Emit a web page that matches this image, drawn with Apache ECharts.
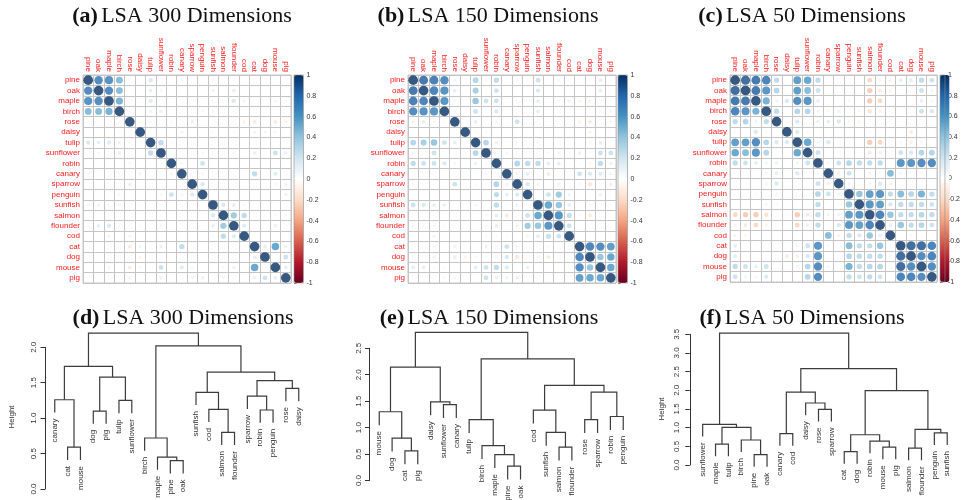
<!DOCTYPE html>
<html>
<head>
<meta charset="utf-8">
<script src="https://cdn.jsdelivr.net/npm/echarts@6/dist/echarts.min.js"></script>
<style>
html,body{margin:0;padding:0;background:#fff;}
#chart{width:963px;height:500px;}
</style>
</head>
<body>
<div id="chart"></div>
<script>
// Word list shared by all panels
const terms = ['pine','oak','maple','birch','rose','daisy','tulip','sunflower','robin','canary',
  'sparrow','penguin','sunfish','salmon','flounder','cod','cat','dog','mouse','pig'];

// Correlations, upper triangle: row i holds r(i, j) for j = i+1 .. 19
const corr300 = [
  [0.75,0.72,0.50,0.02,-0.03,0.20,0.00,0.00,-0.08,0.00,0.00,0.08,0.00,0.05,0.02,0.00,0.00,0.02,0.02],
  [0.75,0.50,0.00,0.02,0.15,-0.08,0.00,0.00,0.04,0.00,0.10,0.00,0.15,0.02,0.00,0.00,0.02,0.00],
  [0.55,0.00,0.02,0.18,0.00,0.02,0.00,0.03,0.00,0.05,0.05,0.20,0.10,0.00,0.02,-0.08,-0.05],
  [-0.04,-0.05,0.10,-0.12,0.02,-0.05,0.00,-0.08,0.08,0.00,0.06,0.00,0.00,0.02,0.00,0.00],
  [0.00,0.08,0.00,0.08,0.00,0.12,0.00,0.00,0.00,-0.04,-0.10,-0.15,0.00,-0.15,-0.10],
  [0.00,0.00,0.00,0.10,0.00,0.00,-0.05,0.00,0.05,0.00,0.10,-0.10,0.08,0.00],
  [0.30,0.05,0.00,0.00,0.00,0.00,0.00,0.00,0.00,0.00,0.00,0.03,0.02],
  [0.03,0.05,0.03,0.06,0.05,-0.05,-0.08,0.02,0.12,0.00,0.25,0.12],
  [0.08,0.00,0.25,0.00,0.00,0.00,0.00,0.00,0.00,0.00,0.00],
  [0.00,0.08,-0.04,0.00,-0.05,0.00,0.30,0.00,0.18,0.00],
  [0.20,0.00,0.00,0.00,0.00,0.00,0.00,0.08,-0.10],
  [0.00,0.00,0.03,0.00,0.00,0.00,-0.03,-0.12],
  [0.20,0.15,0.06,0.00,0.00,0.00,0.00],
  [0.42,0.30,0.00,-0.05,-0.08,-0.08],
  [0.18,-0.04,0.00,-0.12,0.00],
  [0.00,0.00,0.00,0.00],
  [0.15,0.60,0.12],
  [0.03,0.25],
  [0.15]
];
const corr150 = [
  [0.85,0.82,0.75,0.10,0.00,0.35,0.08,0.30,0.00,0.08,0.05,0.25,0.04,0.08,0.05,0.00,-0.05,0.15,0.04],
  [0.80,0.72,0.15,0.00,0.40,0.05,0.25,0.03,0.05,0.00,0.20,0.00,0.05,0.03,0.00,0.00,0.15,0.00],
  [0.70,0.08,0.02,0.45,0.25,0.25,-0.03,0.05,0.03,0.15,0.03,0.08,0.10,-0.08,-0.10,0.05,0.03],
  [0.08,0.00,0.25,0.00,0.20,-0.02,0.00,-0.02,0.15,0.00,0.05,0.02,0.00,0.00,0.06,0.08],
  [0.00,0.15,0.00,0.08,0.05,0.25,0.00,0.00,0.03,0.03,0.02,-0.10,-0.15,0.02,-0.08],
  [0.05,0.05,0.03,0.02,0.00,0.03,0.03,-0.04,0.00,0.00,0.00,-0.10,0.00,0.00],
  [0.35,0.12,0.04,0.06,0.03,0.08,0.00,0.00,0.00,0.00,-0.08,0.15,0.02],
  [0.05,0.08,0.04,0.02,0.02,-0.08,-0.08,-0.05,0.12,0.05,0.25,0.25],
  [0.05,0.35,0.30,0.30,0.15,0.15,0.05,0.05,-0.08,0.30,0.12],
  [-0.10,0.15,-0.05,-0.15,-0.05,0.05,0.25,0.20,0.18,0.10],
  [0.20,0.10,0.03,0.10,0.02,-0.08,-0.18,0.04,-0.12],
  [0.03,0.25,0.42,0.10,0.00,0.03,0.12,0.00],
  [0.60,0.45,0.15,0.00,-0.08,0.02,0.00],
  [0.70,0.28,-0.08,-0.15,0.02,0.00],
  [0.25,0.00,0.00,0.00,0.00],
  [0.00,0.00,-0.03,0.00],
  [0.78,0.75,0.65],
  [0.45,0.60],
  [0.60]
];
const corr50 = [
  [0.90,0.85,0.80,0.30,0.05,0.65,0.60,0.30,0.02,0.00,0.02,0.00,-0.25,-0.10,-0.10,0.15,0.15,0.30,0.25],
  [0.85,0.70,0.35,0.00,0.65,0.50,0.25,0.00,0.04,-0.03,0.00,-0.30,-0.15,-0.08,0.04,0.04,0.25,0.10],
  [0.55,0.10,0.20,0.75,0.70,0.15,0.00,-0.03,-0.06,0.04,-0.30,-0.25,0.00,0.04,0.02,0.15,0.08],
  [0.30,0.05,0.35,0.35,0.10,-0.08,-0.10,0.02,-0.08,-0.20,-0.10,0.03,0.03,0.00,0.25,0.20],
  [0.00,0.20,0.00,0.12,0.15,0.20,-0.08,-0.08,0.02,0.00,0.03,0.03,-0.02,0.02,0.02],
  [0.20,0.05,0.03,0.00,0.02,0.00,0.00,-0.05,-0.03,0.00,0.00,-0.15,0.03,0.00],
  [0.60,0.10,0.20,0.00,-0.05,0.00,-0.30,-0.25,0.00,-0.06,-0.12,0.08,0.00],
  [0.25,0.00,-0.03,0.00,0.04,-0.15,-0.12,0.03,0.25,0.20,0.35,0.35],
  [0.08,0.25,0.35,0.30,0.30,0.30,0.04,0.70,0.70,0.75,0.75],
  [-0.12,0.25,0.02,0.10,0.04,0.50,0.08,0.02,0.08,0.00],
  [0.10,0.06,0.10,0.20,-0.10,0.00,0.00,0.00,0.00],
  [0.45,0.65,0.70,0.30,0.50,0.35,0.55,0.30],
  [0.70,0.65,0.20,0.30,0.30,0.30,0.25],
  [0.80,0.45,0.30,0.30,0.35,0.30],
  [0.15,0.45,0.30,0.35,0.25],
  [0.02,-0.08,0.00,0.00],
  [0.90,0.90,0.80],
  [0.75,0.80],
  [0.75]
];

// Hierarchical clustering: leaf order, then merges [left, right, height];
// a string is a leaf, a number refers to an earlier merge
const leaves300 = ['canary','cat','mouse','dog','pig','tulip','sunflower','birch','maple','pine',
  'oak','sunfish','cod','salmon','flounder','sparrow','robin','penguin','rose','daisy'];
const merges300 = [
  ['pine','oak',0.40], ['maple',0,0.45], ['cat','mouse',0.59], ['birch',1,0.72],
  ['salmon','flounder',0.80], ['dog','pig',1.10], ['robin','penguin',1.115], ['cod',4,1.125],
  ['tulip','sunflower',1.25], ['canary',2,1.26], ['sparrow',6,1.31], ['sunfish',7,1.365],
  ['rose','daisy',1.42], [10,12,1.53], [5,8,1.58], [11,13,1.65], [9,14,1.73], [3,15,2.02], [16,17,2.20]
];
const leaves150 = ['mouse','dog','cat','pig','daisy','sunflower','canary','tulip','birch','maple',
  'pine','oak','cod','sunfish','salmon','flounder','rose','sparrow','robin','penguin'];
const merges150 = [
  ['pine','oak',0.27], ['maple',0,0.49], ['cat','pig',0.56], ['salmon','flounder',0.63],
  ['birch',1,0.66], ['dog',2,0.80], ['sunfish',3,0.91], ['tulip',4,1.15], ['rose','sparrow',1.15],
  ['robin','penguin',1.21], ['mouse',5,1.30], ['cod',6,1.33], ['sunflower','canary',1.435],
  ['daisy',12,1.485], [8,9,1.67], [11,14,1.80], [10,13,2.145], [7,15,2.30], [16,17,2.80]
];
const leaves50 = ['sunflower','maple','tulip','birch','pine','oak','canary','cod','daisy','rose',
  'sparrow','cat','dog','robin','mouse','pig','salmon','flounder','penguin','sunfish'];
const merges50 = [
  ['pine','oak',0.28], ['cat','dog',0.36], ['salmon','flounder',0.45], ['mouse','pig',0.48],
  ['maple','tulip',0.56], ['robin',3,0.64], ['birch',0,0.67], [1,5,0.81], ['canary','cod',0.84],
  ['penguin','sunfish',0.86], [2,9,0.955], [4,6,1.01], ['sunflower',11,1.09], ['rose','sparrow',1.49],
  ['daisy',13,1.66], [8,14,1.95], [7,10,1.99], [15,16,2.58], [12,17,3.53]
];

const panelTags = ['(a)','(b)','(c)','(d)','(e)','(f)'];
const panelNames = ['LSA 300 Dimensions','LSA 150 Dimensions','LSA 50 Dimensions',
  'LSA 300 Dimensions','LSA 150 Dimensions','LSA 50 Dimensions'];

const rdbu = ['#67001F','#B2182B','#D6604D','#F4A582','#FDDBC7','#FFFFFF',
  '#D1E5F0','#92C5DE','#4393C3','#2166AC','#053061'];

// ---- build the full symmetric matrix as [col, row, r] triples
function matrixData(upper) {
  const out = [];
  const n = terms.length;
  for (let i = 0; i < n; i++) {
    for (let j = 0; j < n; j++) {
      let v;
      if (i === j) v = 1;
      else if (i < j) v = upper[i][j - i - 1];
      else v = upper[j][i - j - 1];
      out.push([j, i, v]);
    }
  }
  return out;
}

// ---- dendrogram geometry following plot.hclust (hang = 0.1 of height range)
function treeLayout(order, merges) {
  const hs = merges.map(m => m[2]);
  const hang = 0.1 * (Math.max(...hs) - Math.min(...hs));
  const nodeX = [];
  const links = [];
  const tips = [];
  const xOf = r => typeof r === 'string' ? order.indexOf(r) + 1 : nodeX[r];
  const hOf = (r, h) => typeof r === 'string' ? h - hang : merges[r][2];
  merges.forEach((m, i) => {
    const x1 = xOf(m[0]), x2 = xOf(m[1]);
    nodeX[i] = (x1 + x2) / 2;
    links.push([x1, x2, m[2], hOf(m[0], m[2]), hOf(m[1], m[2])]);
    [m[0], m[1]].forEach(r => {
      if (typeof r === 'string') {
        const k = order.indexOf(r);
        tips.push([k + 1, m[2] - hang, k]);
      }
    });
  });
  return { links, tips };
}

const sans = 'Liberation Sans, Arial, sans-serif';
const serif = 'Liberation Serif, Times New Roman, serif';

const matrixPanels = [
  { data: corr300, left: 83, top: 75, size: 208, bar: 294 },
  { data: corr150, left: 408, top: 75, size: 208, bar: 618 },
  { data: corr50,  left: 730, top: 75, size: 207, bar: 940 }
];
const treePanels = [
  { order: leaves300, merges: merges300, left: 45,  top: 347.3, height: 141.7, xmin: 0.24, xmax: 20.76, width: 263.5, ymax: 2.0 },
  { order: leaves150, merges: merges150, left: 369.5, top: 348.3, height: 132.2, xmin: 0.24, xmax: 20.76, width: 263.5, ymax: 2.5 },
  { order: leaves50,  merges: merges50,  left: 688, top: 334.3, height: 130.7, xmin: -0.14, xmax: 20.76, width: 269, ymax: 3.5 }
];

const grid = [], xAxis = [], yAxis = [], series = [], visualMap = [];

// correlation matrices
matrixPanels.forEach((p, k) => {
  const cell = p.size / terms.length;
  grid.push({ left: p.left, top: p.top, width: p.size, height: p.size, show: true,
    borderColor: '#c4c4c4', borderWidth: 1, backgroundColor: '#fff' });
  xAxis.push({ gridIndex: k, type: 'category', data: terms, position: 'top',
    axisLine: { show: false }, axisTick: { show: false },
    splitLine: { show: true, interval: 0, lineStyle: { color: '#c4c4c4', width: 1 } },
    axisLabel: { interval: 0, rotate: 90, color: '#ff1a1a', fontSize: 8, fontFamily: sans, margin: 3 } });
  yAxis.push({ gridIndex: k, type: 'category', data: terms, inverse: true,
    axisLine: { show: false }, axisTick: { show: false },
    splitLine: { show: true, interval: 0, lineStyle: { color: '#c4c4c4', width: 1 } },
    axisLabel: { interval: 0, color: '#ff1a1a', fontSize: 8, fontFamily: sans, margin: 3 } });
  series.push({ type: 'scatter', xAxisIndex: k, yAxisIndex: k, data: matrixData(p.data),
    symbol: 'circle', silent: true,
    symbolSize: d => 0.93 * Math.sqrt(Math.abs(d[2])) * cell });
  visualMap.push({ type: 'continuous', seriesIndex: k, dimension: 2, min: -1, max: 1,
    inRange: { color: rdbu }, calculable: false, hoverLink: false, orient: 'vertical',
    left: p.bar, top: p.top, itemWidth: 9.5, itemHeight: p.size, padding: 0, text: null,
    showLabel: false });
});

// colour-bar scales
matrixPanels.forEach((p, k) => {
  const gi = grid.length;
  grid.push({ left: p.bar, top: p.top, width: 9.5, height: p.size, show: true, z: 6,
    borderColor: '#8a8a8a', borderWidth: 0.6, backgroundColor: 'transparent' });
  xAxis.push({ gridIndex: gi, type: 'value', show: false });
  yAxis.push({ gridIndex: gi, type: 'value', min: -1, max: 1, interval: 0.2, position: 'right',
    axisLine: { show: false }, splitLine: { show: false },
    axisTick: { show: true, length: 2.5, lineStyle: { color: '#666', width: 0.8 } },
    axisLabel: { fontSize: 7, color: '#333', fontFamily: sans, margin: 3 } });
});

// dendrograms
treePanels.forEach((p, k) => {
  const gi = grid.length;
  const lay = treeLayout(p.order, p.merges);
  grid.push({ left: p.left, top: p.top, width: p.width, height: p.height });
  xAxis.push({ gridIndex: gi, type: 'value', min: p.xmin, max: p.xmax, show: false });
  yAxis.push({ gridIndex: gi, type: 'value', min: 0, max: p.ymax, interval: 0.5,
    axisLine: { show: true, lineStyle: { color: '#333', width: 1 } },
    axisTick: { show: true, length: 4.5, lineStyle: { color: '#333', width: 1 } },
    splitLine: { show: false },
    axisLabel: { rotate: 90, fontSize: 8, color: '#333', fontFamily: sans, margin: 7,
      formatter: v => v.toFixed(1) } });
  series.push({ type: 'custom', xAxisIndex: gi, yAxisIndex: gi, clip: false, silent: true,
    data: lay.links, encode: { x: [0, 1], y: [2, 3, 4] },
    renderItem: (params, api) => {
      const a = api.coord([api.value(0), api.value(3)]);
      const b = api.coord([api.value(0), api.value(2)]);
      const c = api.coord([api.value(1), api.value(2)]);
      const d = api.coord([api.value(1), api.value(4)]);
      return { type: 'polyline', shape: { points: [a, b, c, d] },
        style: { stroke: '#3c3c3c', lineWidth: 1.2, fill: 'none' } };
    } });
  series.push({ type: 'custom', xAxisIndex: gi, yAxisIndex: gi, clip: false, silent: true,
    data: lay.tips, encode: { x: 0, y: 1 },
    renderItem: (params, api) => {
      const pt = api.coord([api.value(0), api.value(1)]);
      return { type: 'text', x: pt[0], y: pt[1] + 6, rotation: Math.PI / 2,
        style: { text: p.order[api.value(2)], fontSize: 8, fontFamily: sans, fill: '#333',
          align: 'right', verticalAlign: 'middle' } };
    } });
});

// panel titles and axis names
const titlePos = [[182, 16], [488, 16], [802, 16], [183, 318], [489, 318], [802, 318]];
const graphic = titlePos.map((pos, i) => ({
  type: 'text', x: pos[0], y: pos[1],
  style: { text: '{b|' + panelTags[i] + '} {n|' + panelNames[i] + '}',
    align: 'center', verticalAlign: 'middle',
    rich: { b: { fontFamily: serif, fontWeight: 'bold', fontSize: 22, fill: '#111' },
            n: { fontFamily: serif, fontSize: 22, fill: '#111' } } }
}));
[[12, 417], [662, 409]].forEach(pos => graphic.push({
  type: 'text', x: pos[0], y: pos[1], rotation: Math.PI / 2,
  style: { text: 'Height', fontSize: 8, fontFamily: sans, fill: '#333', align: 'center', verticalAlign: 'middle' }
}));

const chart = echarts.init(document.getElementById('chart'), null, { renderer: 'canvas' });
chart.setOption({
  animation: false,
  backgroundColor: '#fff',
  grid, xAxis, yAxis, series, visualMap, graphic
});
</script>
</body>
</html>
